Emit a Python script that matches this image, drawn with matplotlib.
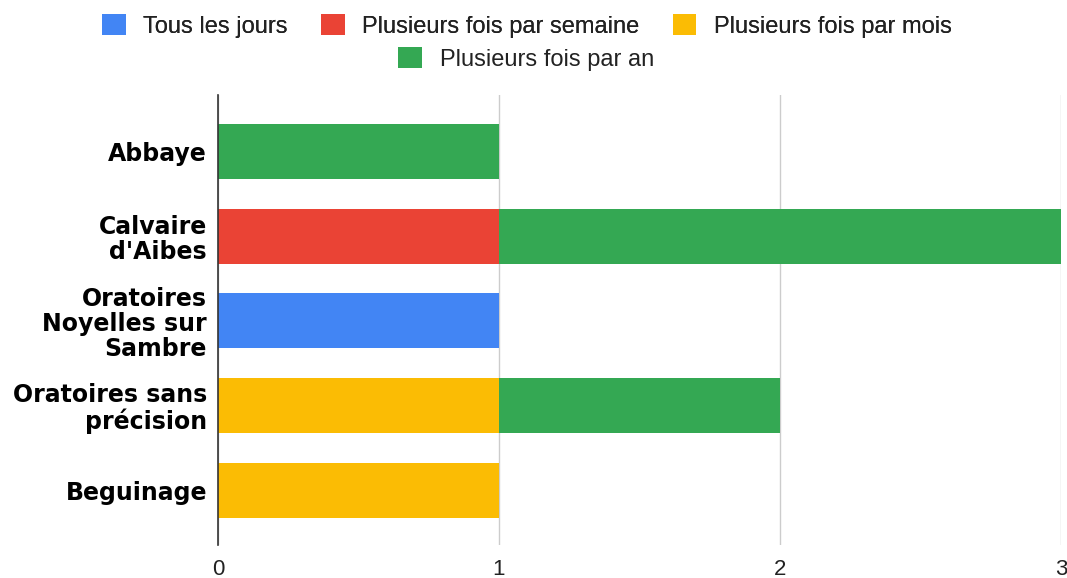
import matplotlib
matplotlib.use("Agg")
import matplotlib.pyplot as plt
import numpy as np

plt.rcParams['font.family'] = ['Liberation Sans', 'DejaVu Sans']

categories = ["Abbaye", "Calvaire\nd'Aibes", "Oratoires\nNoyelles sur\nSambre", "Oratoires sans\nprécision", "Beguinage"]
series_names = ["Tous les jours", "Plusieurs fois par semaine", "Plusieurs fois par mois", "Plusieurs fois par an"]
tous_les_jours = [0, 0, 1, 0, 0]
par_semaine = [0, 1, 0, 0, 0]
par_mois = [0, 0, 0, 1, 1]
par_an = [1, 2, 0, 1, 0]
xticks = [0, 1, 2, 3]

colors = ["#4285F4", "#EA4335", "#FBBC04", "#34A853"]
series = [tous_les_jours, par_semaine, par_mois, par_an]

fig = plt.figure(figsize=(10.67, 5.78), dpi=100)
ax = fig.add_axes([218/1067, 1-545/578, (1061-218)/1067, (545-95)/578])

y = np.arange(len(categories))
left = np.zeros(len(categories))
handles = []
for name, vals, c in zip(series_names, series, colors):
    vals = np.array(vals, dtype=float)
    h = ax.barh(y, vals, left=left, height=0.65, color=c, label=name, zorder=3)
    handles.append(h)
    left += vals

ax.set_ylim(len(categories) - 1 + 0.65, -0.67)
ax.set_xlim(0, 3)
ax.set_xticks(xticks)
ax.set_xticklabels([str(t) for t in xticks], fontsize=16, color="#222222")
ax.set_yticks(y)
ax.set_yticklabels(categories, fontsize=17, fontweight='bold', color="#000000",
                   family=['DejaVu Sans'], linespacing=1.05)
ax.tick_params(axis='y', length=0, pad=8)
ax.tick_params(axis='x', length=0, pad=10)
ax.xaxis.grid(True, color="#cccccc", linewidth=1, zorder=0)
for s in ['top', 'right', 'bottom']:
    ax.spines[s].set_visible(False)
ax.spines['left'].set_color("#333333")
ax.spines['left'].set_linewidth(1.2)
ax.spines['left'].set_zorder(5)

common = dict(frameon=False, fontsize=17, handlelength=1.0, handleheight=1.0,
              handletextpad=0.75, labelcolor="#222222", borderpad=0, borderaxespad=0)
leg1 = fig.legend(handles[:3], series_names[:3], loc='center', bbox_to_anchor=(527/1067, 1-26/578),
                  ncol=3, columnspacing=1.4, **common)
leg2 = fig.legend(handles[3:], series_names[3:], loc='center', bbox_to_anchor=(526/1067, 1-59/578),
                  ncol=1, **common)
fig.add_artist(leg1)

fig.savefig("out.png", dpi=100)
